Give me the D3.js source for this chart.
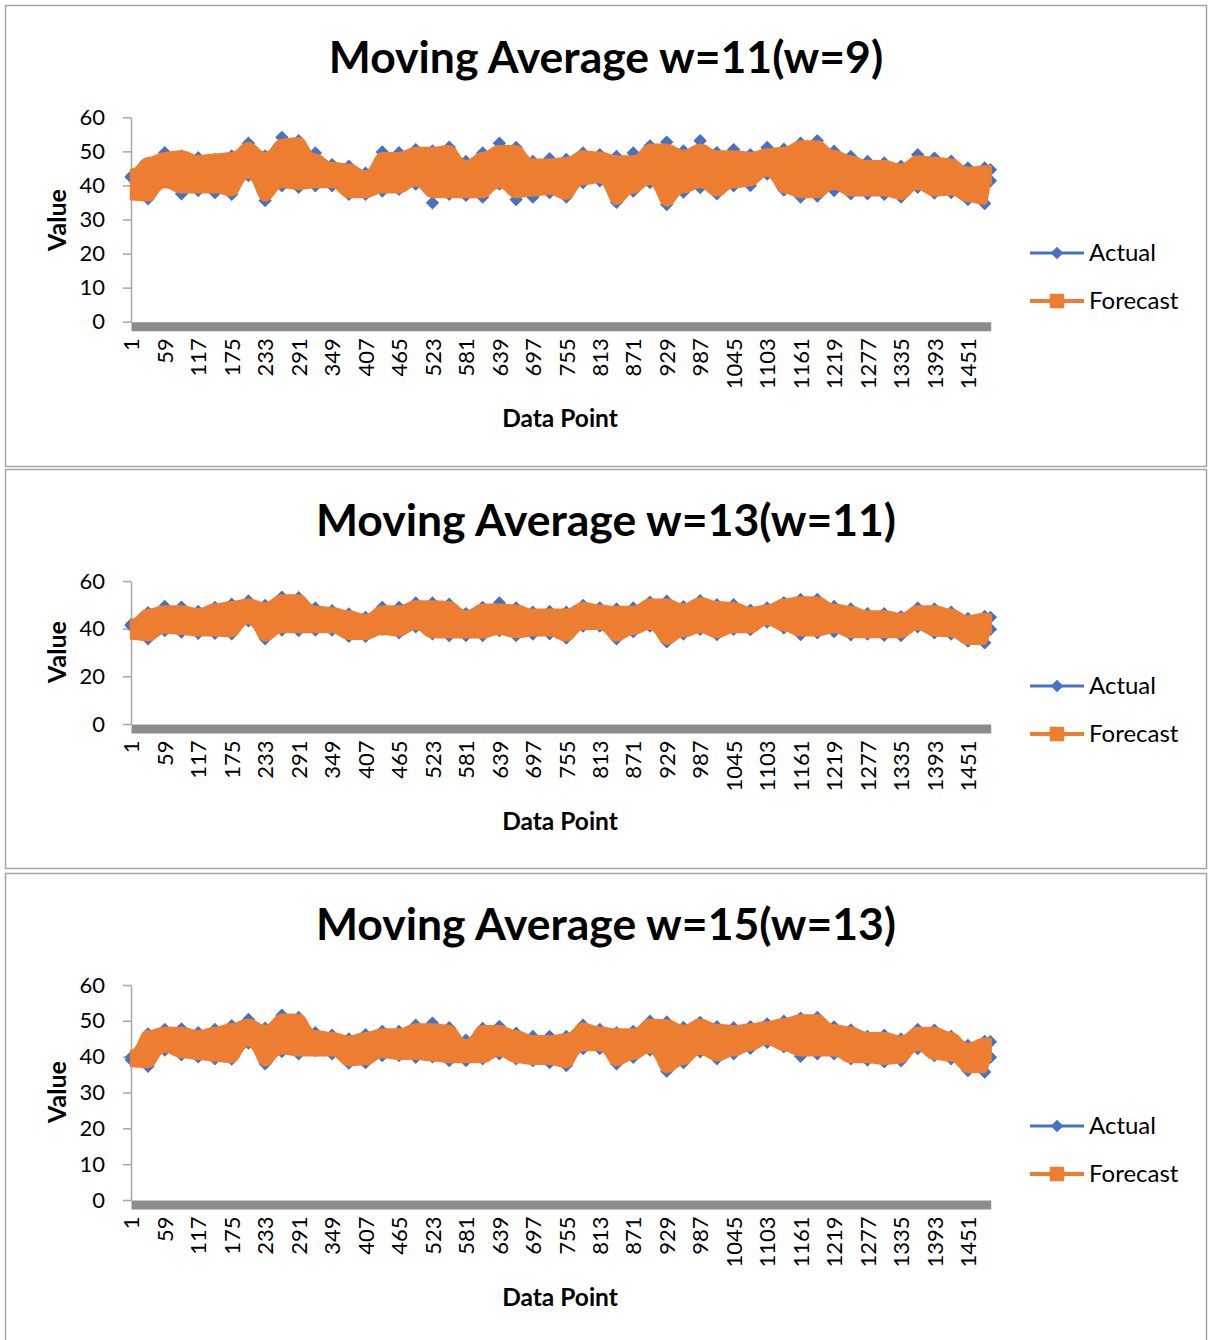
<!DOCTYPE html>
<html>
<head>
<meta charset="utf-8">
<script src="https://cdn.jsdelivr.net/npm/d3@7"></script>
<style>
body { margin: 0; background: #fff; }
svg text { font-family: Lato, "Open Sans", sans-serif; fill: #000; }
</style>
</head>
<body>
<div id="charts"></div>
<script>
// category labels shown on the x axis (every 58th data point)
var tickLabels = [1, 59, 117, 175, 233, 291, 349, 407, 465, 523, 581, 639, 697, 755, 813, 871, 929, 987, 1045, 1103, 1161, 1219, 1277, 1335, 1393, 1451];
var pointCount = 1490;

var samplePoints = [1, 30, 59, 88, 117, 146, 175, 204, 233, 262, 291, 320, 349, 378, 407, 436, 465, 494, 523, 552, 581, 610, 639, 668, 697, 726, 755, 784, 813, 842, 871, 900, 929, 958, 987, 1016, 1045, 1074, 1103, 1132, 1161, 1190, 1219, 1248, 1277, 1306, 1335, 1364, 1393, 1422, 1451, 1480, 1490];

var chartTitles = ["Moving Average w=11(w=9)", "Moving Average w=13(w=11)", "Moving Average w=15(w=13)"];
var seriesNames = ["Actual", "Forecast"];
var yTicksA = [0, 10, 20, 30, 40, 50, 60];
var yTicksB = [0, 20, 40, 60];

// w=11(w=9): upper / lower edge of each series
var c1ActualHi = [43.5, 47, 50.5, 49.5, 49, 48.5, 49.5, 53.3, 49.5, 55, 54, 50.4, 47, 46.5, 44.5, 50.7, 50.5, 51.4, 51, 52.1, 47.9, 50.4, 53.3, 52, 47.9, 48.7,
    48.5, 50.4, 49.9, 49.4, 50.4, 52.5, 53.6, 51, 54, 50.5, 51.4, 49.9, 52, 51.5, 53.3, 54, 50.9, 49.4, 47.9, 47.5, 46.5, 49.9, 48.9, 48, 46, 46, 45.5];
var c1ActualLo = [41.5, 35.2, 41, 36.7, 37.6, 37, 36.5, 42, 34.7, 39, 38.6, 39, 39, 36.5, 36.5, 37.5, 38, 39.5, 34, 36.5, 36.2, 35.7, 39.5, 35, 35.7, 37,
    35.7, 40, 40.5, 34.2, 37.5, 40, 33.5, 37.2, 38.5, 36.7, 39, 39.1, 42.5, 37.8, 35.7, 36, 37.6, 36.7, 36.7, 36.5, 35.7, 38.6, 36.9, 37, 35, 33.8, 40.5];
var c1ForecastHi = [44.5, 47.9, 49.4, 49.9, 48.5, 48.9, 49.4, 52.4, 49.4, 53.3, 53.8, 48.9, 46.5, 46, 44, 49.4, 49.4, 50.9, 50.9, 51.4, 47, 49.4, 51.4, 51.4, 47.5, 47.5,
    47.9, 49.9, 49.5, 48.4, 48.4, 51.9, 51.9, 50, 51.9, 49.9, 49.9, 49.4, 50.5, 50.9, 52.8, 52.8, 50, 48.4, 47, 47, 46, 48.4, 48, 47.5, 45, 45.5, 45.5];
var c1ForecastLo = [36, 35.7, 39.6, 38.1, 38.1, 38.1, 37.2, 42.5, 35.7, 39.6, 39.1, 39.6, 39.6, 36.7, 36.7, 38.1, 38.1, 40.1, 36.7, 36.7, 36.7, 36.7, 39.6, 36.7, 37.2, 37.6,
    36.2, 40.5, 41.1, 34.7, 38, 40.6, 34.2, 38.1, 39.6, 37.2, 39.6, 40.1, 43, 38.1, 36.7, 36.7, 39.1, 37.2, 37.2, 37.2, 36.2, 39.1, 37.2, 37.5, 35.5, 34.7, 40.6];

// w=13(w=11)
var c2ActualHi = [42.5, 48, 50.6, 50.3, 48.5, 50.2, 51.5, 52.9, 51, 54.5, 54.2, 49.9, 48.8, 47.4, 46, 50.2, 50.2, 52, 52, 51.5, 47.5, 50.2, 52, 50, 48.2, 48.5,
    48.2, 51, 50, 49.5, 49.9, 52.4, 52.8, 50.5, 53, 51.3, 51.3, 49, 50, 52.2, 53.5, 53.5, 50.6, 49.5, 47.5, 47.5, 46.3, 49.9, 49.5, 48.2, 45.5, 46.4, 46];
var c2ActualLo = [40.5, 34.5, 38, 37.3, 36.8, 36.8, 36.6, 42, 34.5, 38.2, 38, 38.2, 38.2, 35.5, 35.5, 38.5, 37, 39.5, 36.6, 35.9, 35.9, 35.9, 38, 35.9, 36.5, 36.6,
    34.8, 39.8, 39.8, 34.5, 37.5, 39.8, 33.2, 36.5, 38.5, 36.3, 38.5, 38.4, 41.5, 39, 36.3, 37, 37.5, 36.2, 36.5, 36, 35.9, 39.5, 37, 36.5, 33.5, 32.8, 38.5];
var c2ForecastHi = [43.5, 47.8, 49.2, 49.2, 48, 49.9, 51, 52, 50.5, 53.8, 53.8, 49, 48.5, 47.1, 45.5, 49.2, 49.2, 51.3, 51.3, 51, 47.1, 49.9, 49.9, 49.5, 47.8, 47.8,
    47.8, 50.6, 49.5, 49, 49, 52, 52, 50, 52.7, 51, 50.6, 48.5, 49.5, 52, 53, 53, 49.9, 49, 47.1, 47.1, 46, 49.2, 49.2, 47.8, 45, 46, 45.8];
var c2ForecastLo = [36, 35.2, 38.5, 38, 37.3, 37.3, 37, 42.5, 35.2, 38.7, 38.7, 38.7, 38.7, 35.9, 35.9, 38, 37.3, 40.1, 36.6, 36.5, 36.5, 36.5, 38, 36.6, 37.3, 37.3,
    35.2, 40.1, 40.1, 35.2, 38, 40.1, 33.8, 37, 38.7, 36.6, 38.7, 38.7, 42, 39.4, 37.3, 37.3, 38.7, 36.6, 36.6, 36.6, 36.6, 40, 37.3, 37, 33.8, 33.8, 38.5];

// w=15(w=13)
var c3ActualHi = [40, 47.2, 48.4, 48.6, 47.5, 48.4, 49.5, 51.2, 48.8, 52.4, 51.8, 47.5, 46.8, 45.8, 47, 47.9, 47.9, 49.6, 50.2, 48.9, 45.4, 48.7, 49.3, 47.4, 46.5, 46.5,
    46.5, 49.6, 48.4, 47.5, 47.9, 50.7, 50.5, 49, 50.4, 49.2, 48.9, 49.2, 50, 50.7, 51.6, 51.8, 49.1, 48.3, 46.5, 46.8, 45.8, 48.4, 48.2, 46.5, 44, 45.1, 45];
var c3ActualLo = [39, 36.5, 41, 39.7, 39.1, 38.6, 38.5, 43, 37.2, 40.6, 40, 40.9, 40, 37.4, 37.5, 39.5, 39.5, 39, 39.1, 38.1, 38.1, 38.6, 40, 38.6, 38.1, 37.5,
    36.7, 41.4, 41.4, 37.2, 39, 41, 35.1, 37.5, 40.5, 38.6, 40, 41.5, 43.2, 41.9, 39.3, 40, 40, 38.6, 38.2, 37.7, 38, 41.4, 39.5, 38.6, 35.3, 34.9, 39];
var c3ForecastHi = [41.5, 47, 47.9, 47.9, 47, 47.9, 49, 50.2, 48.5, 51.6, 51.6, 47, 46.5, 45.5, 46.5, 47.5, 47.5, 48.9, 48.9, 48.5, 44.5, 48.4, 48.4, 47, 45.6, 45.6,
    46.1, 49.1, 48, 47.5, 47.5, 50.2, 50, 48.5, 50.2, 48.8, 48.4, 48.9, 49.5, 50.4, 51.4, 51.4, 48.6, 48, 46.5, 46.5, 45.5, 47.9, 47.9, 46.5, 43.5, 44.9, 44.9];
var c3ForecastLo = [37.5, 37.2, 41.5, 40, 39.5, 39, 38.6, 43.2, 37.7, 41, 40.5, 40.5, 40.5, 37.7, 38, 40, 39.5, 39.5, 39.1, 38.6, 38.6, 38.6, 40.5, 38.6, 38.1, 38.1,
    37.2, 41.9, 41.9, 37.7, 39.5, 41.4, 35.8, 38, 40.9, 39.1, 40.5, 41.9, 43.7, 41.9, 40.5, 40.5, 40.5, 38.6, 38.6, 38.1, 38.5, 41.9, 39.5, 39, 35.8, 35.8, 39];

var blue = "#4472C4";
var orange = "#ED7D31";

var svg = d3.select("#charts")
    .append("svg")
    .attr("width", 1208)
    .attr("height", 1340);

function drawPanel(p, title, yTicks, actualHi, actualLo, forecastHi, forecastLo) {
    "use strict";
    var g = svg.append("g");

    //Panel frame
    g.append("rect")
        .attr("x", 5.5)
        .attr("y", p.top)
        .attr("width", 1201)
        .attr("height", p.bottom - p.top)
        .attr("fill", "#fff")
        .attr("stroke", "#a6a6a6")
        .attr("stroke-width", 1.5);

    //Title
    g.append("text")
        .attr("x", 606)
        .attr("y", p.titleY)
        .attr("dy", "0.35em")
        .attr("text-anchor", "middle")
        .style("font-size", "44.5px")
        .style("font-weight", "bold")
        .text(title);

    var x = d3.scaleLinear().domain([0.5, pointCount + 0.5]).range([131, 990.7]);
    var y = d3.scaleLinear().domain([0, 60]).range([p.plotBottom, p.plotTop]);

    //Y axis
    var yAxis = g.append("g")
        .attr("transform", "translate(131,0)")
        .call(d3.axisLeft(y).tickValues(yTicks).tickSize(8).tickSizeOuter(0).tickPadding(18));
    yAxis.select(".domain").attr("stroke", "#a6a6a6").attr("stroke-width", 1.5);
    yAxis.selectAll(".tick line").attr("stroke", "#a6a6a6").attr("stroke-width", 1.5);
    yAxis.selectAll("text")
        .style("font-size", "22px")
        .style("font-family", "Lato, sans-serif")
        .attr("fill", "#000");

    var idx = d3.range(samplePoints.length);

    //Actual: diamond markers on the upper and lower edge
    var diamond = d3.symbol(d3.symbolSquare, 90)();
    var marks = [];
    idx.forEach(function (i) {
        marks.push({ i: i, v: actualHi[i], off: 3 });
        marks.push({ i: i, v: actualLo[i], off: -3 });
    });
    g.append("g")
        .selectAll("path")
        .data(marks)
        .enter()
        .append("path")
        .attr("d", diamond)
        .attr("fill", blue)
        .attr("transform", function (d) {
            return "translate(" + x(samplePoints[d.i]) + "," + (y(d.v) + d.off) + ") rotate(45)";
        });

    //Forecast band
    var band = d3.area()
        .curve(d3.curveBumpX)
        .x(function (i) { return x(samplePoints[i]); })
        .y0(function (i) { return y(forecastLo[i]); })
        .y1(function (i) { return y(forecastHi[i]); });
    g.append("path")
        .attr("d", band(idx))
        .attr("fill", orange)
        .attr("stroke", orange)
        .attr("stroke-width", 3)
        .attr("stroke-linejoin", "round");

    //X axis drawn as the thick grey bar with rotated labels
    var xAxis = g.append("g")
        .attr("transform", "translate(0," + (p.plotBottom + 4.5) + ")")
        .call(d3.axisBottom(x).tickValues(tickLabels).tickSize(0).tickSizeOuter(0).tickFormat(d3.format("d")));
    xAxis.select(".domain").attr("stroke", "#8c8c8c").attr("stroke-width", 9);
    xAxis.selectAll("text")
        .attr("transform", "rotate(-90)")
        .attr("x", -12)
        .attr("y", 0)
        .attr("dy", "0.35em")
        .style("text-anchor", "end")
        .style("font-size", "22px")
        .style("font-family", "Lato, sans-serif")
        .attr("fill", "#000");

    //Axis titles
    g.append("text")
        .attr("x", 560)
        .attr("y", p.dataPointY)
        .attr("dy", "0.35em")
        .attr("text-anchor", "middle")
        .style("font-size", "24.5px")
        .style("font-weight", "bold")
        .text("Data Point");

    g.append("text")
        .attr("transform", "translate(57," + p.valueY + ") rotate(-90)")
        .attr("dy", "0.35em")
        .attr("text-anchor", "middle")
        .style("font-size", "25px")
        .style("font-weight", "bold")
        .text("Value");

    //Legend
    var legend = g.selectAll(".legend")
        .data(seriesNames)
        .enter()
        .append("g")
        .attr("class", "legend")
        .attr("transform", function (d, i) {
            return "translate(0," + (p.legendY + i * 48) + ")";
        });
    legend.append("line")
        .attr("x1", 1030)
        .attr("x2", 1084)
        .attr("stroke", function (d, i) { return i === 0 ? blue : orange; })
        .attr("stroke-width", function (d, i) { return i === 0 ? 3 : 4; });
    legend.append("path")
        .attr("d", function (d, i) {
            return i === 0 ? d3.symbol(d3.symbolSquare, 80)() : d3.symbol(d3.symbolSquare, 210)();
        })
        .attr("transform", function (d, i) {
            return "translate(1057,0)" + (i === 0 ? " rotate(45)" : "");
        })
        .attr("fill", function (d, i) { return i === 0 ? blue : orange; });
    legend.append("text")
        .attr("x", 1089)
        .attr("dy", "0.35em")
        .style("font-size", "24px")
        .text(function (d) { return d; });
}

var panels = [
    { top: 5.5, bottom: 466.5, titleY: 57, plotTop: 117.3, plotBottom: 321.7, legendY: 253, valueY: 220, dataPointY: 418 },
    { top: 469.5, bottom: 868.5, titleY: 520, plotTop: 581, plotBottom: 724, legendY: 686, valueY: 652, dataPointY: 821 },
    { top: 873.5, bottom: 1345, titleY: 924, plotTop: 985, plotBottom: 1200, legendY: 1126, valueY: 1092, dataPointY: 1297 }
];

drawPanel(panels[0], chartTitles[0], yTicksA, c1ActualHi, c1ActualLo, c1ForecastHi, c1ForecastLo);
drawPanel(panels[1], chartTitles[1], yTicksB, c2ActualHi, c2ActualLo, c2ForecastHi, c2ForecastLo);
drawPanel(panels[2], chartTitles[2], yTicksA, c3ActualHi, c3ActualLo, c3ForecastHi, c3ForecastLo);
</script>
</body>
</html>
